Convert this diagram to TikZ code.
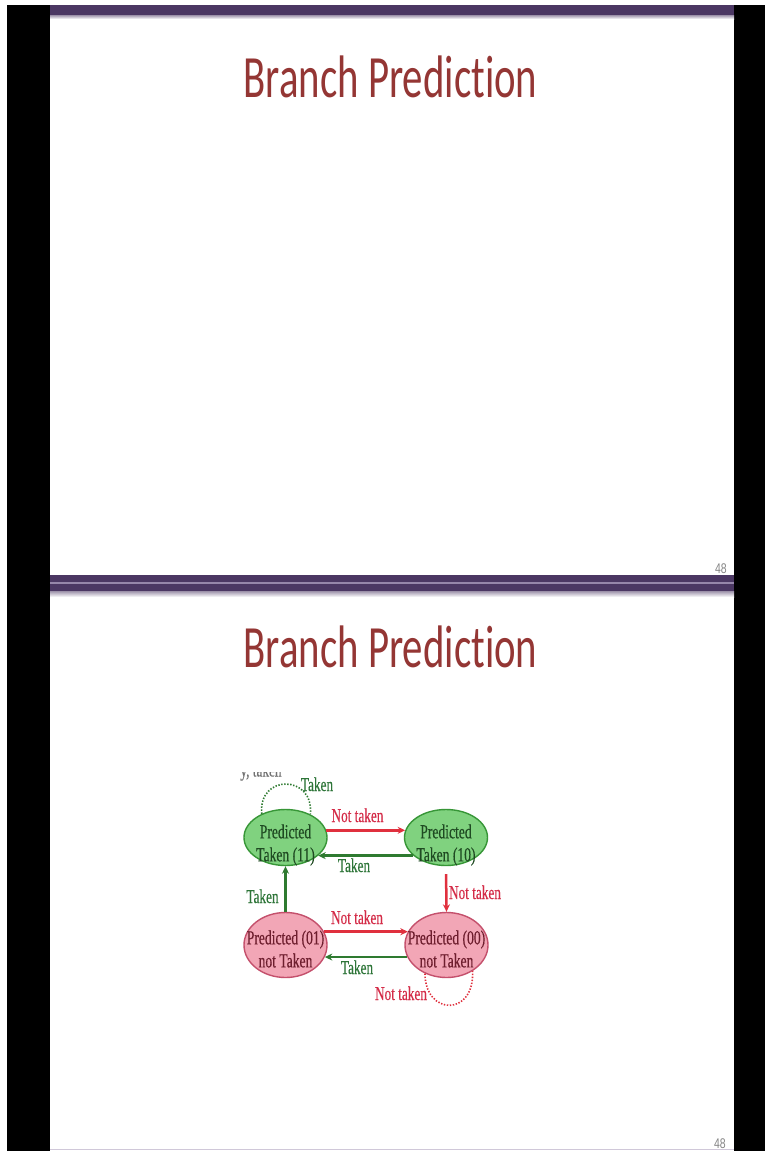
\documentclass[tikz,border=0pt]{standalone}
\usepackage{fontspec}
\usetikzlibrary{shapes.geometric,arrows.meta}
% narrow faces for the slide text
\newfontfamily\titlefont[FakeStretch=0.68,Ligatures=NoCommon]{Carlito}
\newfontfamily\diagfont[FakeStretch=0.68,FakeBold=0.35]{Liberation Serif}
\newfontfamily\numfont[FakeStretch=0.75]{Liberation Sans}

\definecolor{barpurple}{HTML}{4B3763}
\definecolor{barlight}{HTML}{9686AA}
\definecolor{titlered}{HTML}{943634}
\definecolor{gfill}{HTML}{80D27F}
\definecolor{gborder}{HTML}{379637}
\definecolor{gtext}{HTML}{1F4A22}
\definecolor{pfill}{HTML}{F2A6B6}
\definecolor{pborder}{HTML}{C4506C}
\definecolor{ptext}{HTML}{6E1E2E}
\definecolor{rline}{HTML}{E0303E}
\definecolor{gline}{HTML}{2E7A30}
\definecolor{rlabel}{HTML}{D42B47}
\definecolor{glabel}{HTML}{2D7538}

\begin{document}
\begin{tikzpicture}[x=1pt,y=-1pt,
  titletext/.style={anchor=base,inner sep=0,text=titlered,
    font=\titlefont\fontsize{60}{60}\selectfont},
  pagenum/.style={anchor=base east,inner sep=0,text=black!48,
    font=\numfont\fontsize{14}{14}\selectfont},
  gstate/.style={ellipse,draw=gborder,fill=gfill,line width=1.4,
    minimum width=83,minimum height=56,inner sep=0},
  pstate/.style={ellipse,draw=pborder,fill=pfill,line width=1.4,
    minimum width=83,minimum height=65,inner sep=0},
  stxt/.style={inner sep=0,align=center,
    font=\diagfont\fontsize{20}{23}\selectfont},
  lbl/.style={anchor=base,inner sep=0,font=\diagfont\fontsize{19.5}{20}\selectfont},
  rlbl/.style={lbl,text=rlabel},
  glbl/.style={lbl,text=glabel},
  rarrow/.style={draw=rline,line width=2.5,-{Stealth[length=7.5,width=7]}},
  garrow/.style={draw=gline,line width=2.5,-{Stealth[length=7.5,width=7]}},
  gloop/.style={draw=gline,line width=1.6,dash pattern=on 1.4 off 1.6},
  rloop/.style={draw=rline,line width=1.6,dash pattern=on 1.4 off 1.6}]

\useasboundingbox (0,0) rectangle (765,1151);
\fill[white] (0,0) rectangle (765,1151);

% black side frames
\fill[black] (7,5) rectangle (50,1151);
\fill[black] (734,5) rectangle (765,1151);

% ---- first slide ----
\fill[barpurple] (50,5) rectangle (734,15);
\shade[top color=barpurple!55,bottom color=white] (50,15) rectangle (734,19);
\node[titletext] (title1) at (390.5,97) {Branch Prediction};
\node[pagenum] (num1) at (727,573) {48};

% ---- second slide ----
\fill[barpurple] (50,575) rectangle (734,591);
\fill[barlight] (50,582.3) rectangle (734,584);
\shade[top color=barpurple!55,bottom color=white] (50,591) rectangle (734,597);
\node[titletext] (title2) at (390.5,667) {Branch Prediction};
\node[pagenum] (num2) at (726,1148) {48};
\draw[barlight!45,line width=1] (50,1149.5) -- (734,1149.5);

% clipped caption fragment above the diagram
\begin{scope}
  \clip (236,772.5) rectangle (292,781);
  \node[lbl,text=black!55] (frag) at (261,776.5) {y, taken};
\end{scope}

% states of the two-bit predictor
\node[gstate] (s11) at (285.5,837.5) {};
\node[gstate] (s10) at (446,837.5) {};
\node[pstate] (s01) at (285.5,945) {};
\node[pstate] (s00) at (446.5,945) {};

\node[stxt,text=gtext] (t11) at (285.5,845) {Predicted\\Taken (11)};
\node[stxt,text=gtext] (t10) at (446,845) {Predicted\\Taken (10)};
\node[stxt,text=ptext] (t01) at (285.5,949) {Predicted (01)\\not Taken};
\node[stxt,text=ptext] (t00) at (446.5,949) {Predicted (00)\\not Taken};

% transitions
\draw[rarrow] (s11.10) -- (s10.170);
\draw[garrow] (s10.209) -- (s11.331);
\draw[garrow] (s01.north) -- (s11.south);
\draw[rarrow,shorten <=8] (s10.south) -- (s00.north);
\draw[rarrow] (s01.19) -- (s00.161);
\draw[garrow] (s00.197) -- (s01.343);

% self loops
\draw[gloop] (s11.135) .. controls +(-4,-40) and +(4,-40) .. (s11.43);
\draw[rloop] (s00.-127) .. controls +(0,42) and +(2,46) .. (s00.-45);

% transition labels
\node[rlbl] (l1) at (357.5,822) {Not taken};
\node[glbl] (l2) at (354,872) {Taken};
\node[glbl] (l3) at (262.5,903) {Taken};
\node[rlbl] (l4) at (475,899) {Not taken};
\node[rlbl] (l5) at (357,924) {Not taken};
\node[glbl] (l6) at (357,974) {Taken};
\node[glbl] (l7) at (317,791) {Taken};
\node[rlbl] (l8) at (401,1000) {Not taken};

\end{tikzpicture}
\end{document}
